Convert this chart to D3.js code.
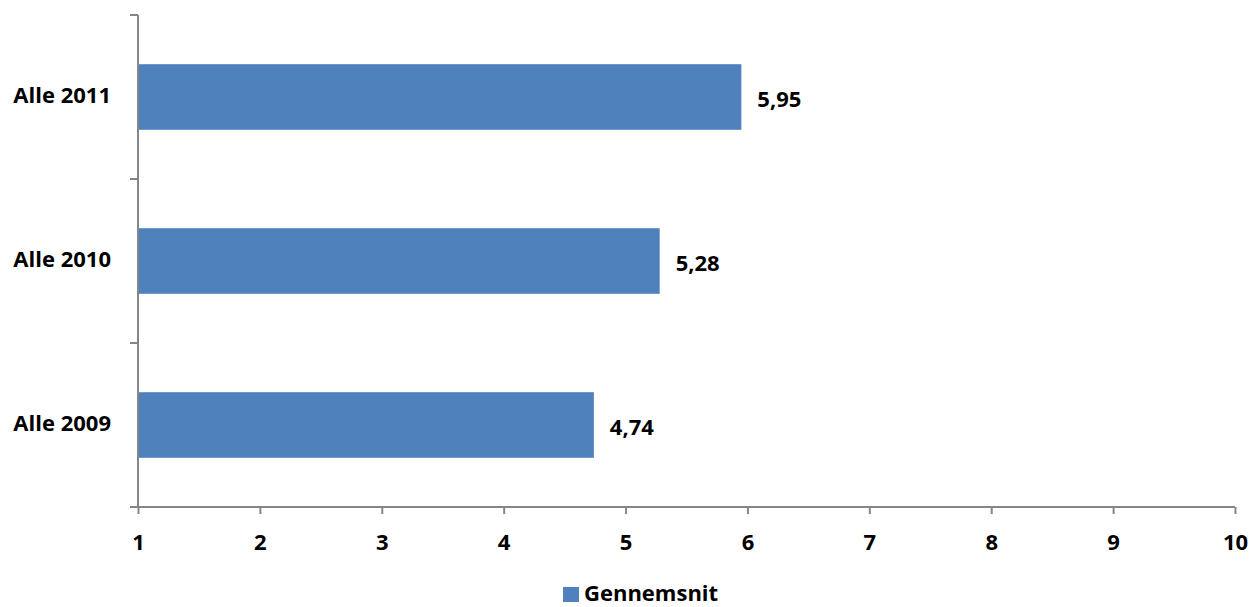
<!DOCTYPE html>
<html>
<head>
<meta charset="utf-8">
<script src="https://cdn.jsdelivr.net/npm/d3@7"></script>
<style>
  html, body { margin: 0; padding: 0; background: #fff; }
  svg { display: block; }
  text { font-family: "Open Sans", "Liberation Sans", sans-serif; font-weight: bold; fill: #000; }
</style>
</head>
<body>
<svg id="chart" width="1250" height="607"></svg>
<script>
// Average score per year
const categories = ["Alle 2011", "Alle 2010", "Alle 2009"];
const values = [5.95, 5.28, 4.74];
const xTicks = [1, 2, 3, 4, 5, 6, 7, 8, 9, 10];
const seriesName = "Gennemsnit";

const svg = d3.select("#chart");
const barColor = "#4F81BD";
const axisColor = "#868686";
const fontSize = 22;

const x = d3.scaleLinear().domain([1, 10]).range([138, 1235]);
const y = d3.scaleBand().domain(categories).range([15, 507])
  .paddingInner(0.6).paddingOuter(0.3);

const fmt = v => d3.format(".2f")(v).replace(".", ",");

// bars
svg.append("g").selectAll("rect").data(values).join("rect")
  .attr("x", x(1))
  .attr("y", (d, i) => y(categories[i]))
  .attr("width", d => x(d) - x(1))
  .attr("height", y.bandwidth())
  .attr("fill", barColor);

// value labels
svg.append("g").selectAll("text").data(values).join("text")
  .attr("x", d => x(d) + 16)
  .attr("y", (d, i) => y(categories[i]) + y.bandwidth() / 2 + 10)
  .attr("font-size", fontSize)
  .text(d => fmt(d));

// x axis
const xAxis = svg.append("g").attr("transform", "translate(0,507)")
  .call(d3.axisBottom(x).tickValues(xTicks).tickSize(7).tickFormat(d3.format("d")));
xAxis.select(".domain").attr("stroke", axisColor).attr("stroke-width", 2).attr("d", `M${x(1)},0H${x(10)}`);
xAxis.selectAll(".tick line").attr("stroke", axisColor).attr("stroke-width", 2);
xAxis.selectAll(".tick text")
  .attr("y", 43).attr("dy", null)
  .attr("font-size", fontSize).attr("font-family", "Open Sans")
  .attr("font-weight", "bold").attr("fill", "#000");

// y axis with ticks at category boundaries
const yAxisG = svg.append("g");
yAxisG.append("line").attr("x1", 138).attr("x2", 138).attr("y1", 15).attr("y2", 507)
  .attr("stroke", axisColor).attr("stroke-width", 2);
const boundaries = categories.map(c => y(c) - (y.step() - y.bandwidth()) / 2).concat([507]);
yAxisG.selectAll("line.tk").data(boundaries).join("line").attr("class", "tk")
  .attr("x1", 130).attr("x2", 138).attr("y1", d => d).attr("y2", d => d)
  .attr("stroke", axisColor).attr("stroke-width", 2);
yAxisG.selectAll("text").data(categories).join("text")
  .attr("x", 111).attr("text-anchor", "end")
  .attr("y", d => y(d) + y.bandwidth() / 2 + 6)
  .attr("font-size", fontSize)
  .text(d => d);

// legend
const lg = svg.append("g").attr("transform", "translate(563,587)");
lg.append("rect").attr("x", 0).attr("y", 0).attr("width", 16).attr("height", 15).attr("fill", barColor);
lg.append("text").attr("x", 21).attr("y", 14).attr("font-size", fontSize).text(seriesName);
</script>
</body>
</html>
